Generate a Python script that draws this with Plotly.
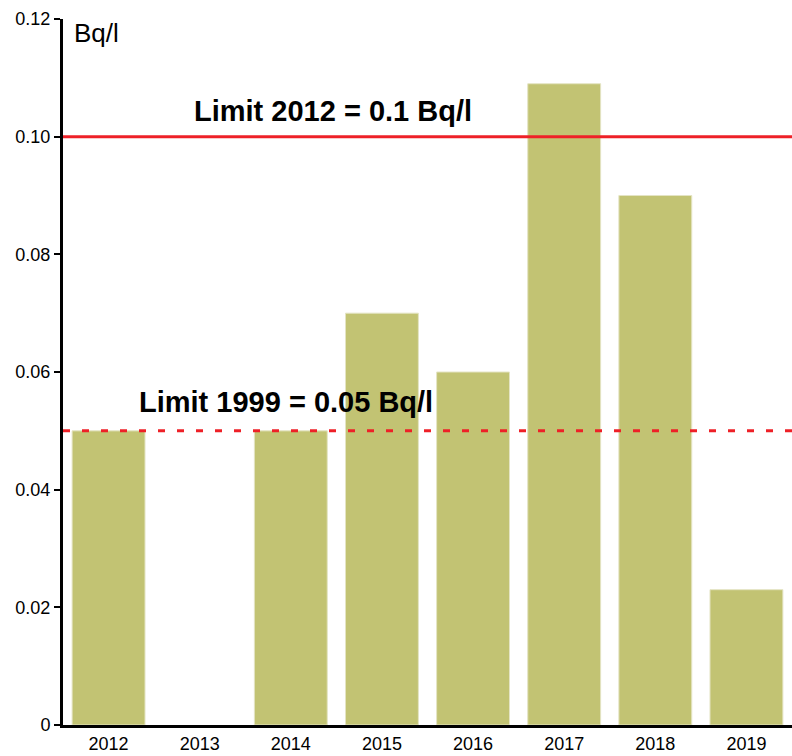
import plotly.graph_objects as go

# Annual activity values (Bq/l); 2013 has no measurement
years = ["2012", "2013", "2014", "2015", "2016", "2017", "2018", "2019"]
activity = [0.05, None, 0.05, 0.07, 0.06, 0.109, 0.09, 0.023]

limit_2012 = 0.10
limit_1999 = 0.05

y_tickvals = [0, 0.02, 0.04, 0.06, 0.08, 0.10, 0.12]
y_ticktext = ["0", "0.02", "0.04", "0.06", "0.08", "0.10", "0.12"]

FONT = "Liberation Sans, Arial, sans-serif"

fig = go.Figure()
fig.add_trace(go.Bar(
    x=years,
    y=activity,
    marker=dict(color="#c2c373", line=dict(color="#e4e4c4", width=1)),
    showlegend=False,
))

# Regulatory limit lines
fig.add_shape(type="line", xref="paper", x0=0, x1=1, yref="y", y0=limit_2012, y1=limit_2012,
              line=dict(color="#ee2027", width=3))
fig.add_shape(type="line", xref="paper", x0=0, x1=1, yref="y", y0=limit_1999, y1=limit_1999,
              line=dict(color="#ee2027", width=3, dash="7px,12px"))

fig.add_annotation(xref="paper", yref="y", x=0.370, y=limit_2012, yshift=26,
                   xanchor="center", yanchor="middle",
                   text="<b>Limit 2012 = 0.1 Bq/l</b>", showarrow=False,
                   font=dict(family=FONT, size=29, color="black"))
fig.add_annotation(xref="paper", yref="y", x=0.306, y=limit_1999, yshift=29,
                   xanchor="center", yanchor="middle",
                   text="<b>Limit 1999 = 0.05 Bq/l</b>", showarrow=False,
                   font=dict(family=FONT, size=29, color="black"))
fig.add_annotation(xref="paper", yref="paper", x=0.013, y=1, yshift=-14,
                   xanchor="left", yanchor="middle",
                   text="Bq/l", showarrow=False,
                   font=dict(family=FONT, size=26, color="black"))

fig.update_layout(
    width=792, height=756,
    margin=dict(l=63, r=0, t=19, b=31),
    paper_bgcolor="white", plot_bgcolor="white",
    bargap=0.2,
    font=dict(family=FONT, size=18, color="black"),
    xaxis=dict(
        showline=True, linecolor="black", linewidth=3,
        ticks="", showgrid=False, zeroline=False,
        tickfont=dict(family=FONT, size=18, color="black"),
    ),
    yaxis=dict(
        range=[0, 0.12],
        tickvals=y_tickvals, ticktext=y_ticktext,
        showline=True, linecolor="black", linewidth=3,
        ticks="outside", ticklen=6, tickwidth=2, tickcolor="black",
        showgrid=False, zeroline=False,
        tickfont=dict(family=FONT, size=18, color="black"),
    ),
)

fig.write_html("out.html")
